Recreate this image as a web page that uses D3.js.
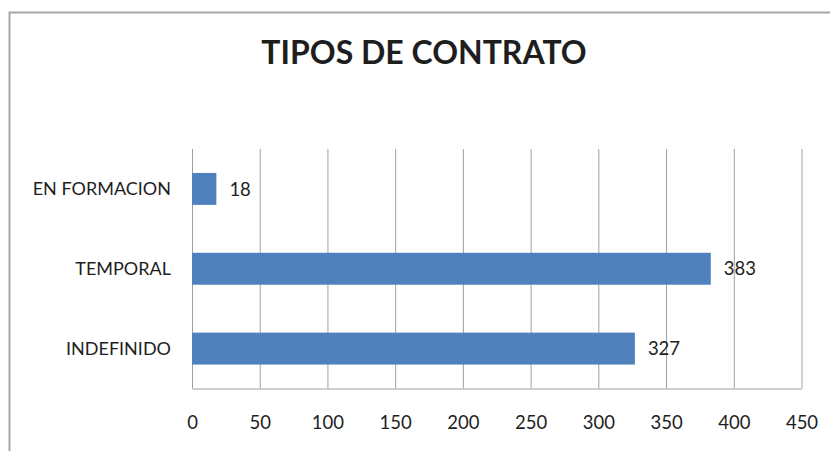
<!DOCTYPE html>
<html>
<head>
<meta charset="utf-8">
<script src="https://cdn.jsdelivr.net/npm/d3@7"></script>
<style>
  body { margin: 0; background: #fff; }
  text { font-family: Lato, "Open Sans", sans-serif; fill: #1e1e1e; }
</style>
</head>
<body>
<div id="graph"></div>
<script>
const categories = ["EN FORMACION", "TEMPORAL", "INDEFINIDO"]
const values = [18, 383, 327]
const xTicks = [0, 50, 100, 150, 200, 250, 300, 350, 400, 450]
const title = "TIPOS DE CONTRATO"

const W = 830, H = 451
const plot = { left: 192, right: 801.5, top: 149, bottom: 388.5 }

const svg = d3.select("#graph")
    .append("svg")
    .attr("width", W)
    .attr("height", H)

// outer chart border (only left/top visible in the crop)
svg.append("rect")
    .attr("x", 9.5)
    .attr("y", 12.5)
    .attr("width", W + 20)
    .attr("height", H + 20)
    .attr("fill", "none")
    .attr("stroke", "#a6a6a6")
    .attr("stroke-width", 2)

const x = d3.scaleLinear()
    .domain([0, 450])
    .range([plot.left, plot.right])

const y = d3.scaleBand()
    .domain(categories)
    .range([plot.top, plot.bottom])
    .paddingInner(0.6)
    .paddingOuter(0.3)

// x axis + vertical gridlines
const xAxis = d3.axisBottom(x)
    .tickValues(xTicks)
    .tickSize(-(plot.bottom - plot.top))
    .tickSizeOuter(0)
    .tickPadding(27)

const gx = svg.append("g")
    .attr("transform", `translate(0,${plot.bottom})`)
    .call(xAxis)

gx.select(".domain").attr("stroke", "#a0a0a0")
gx.selectAll(".tick line").attr("stroke", "#a0a0a0")
gx.selectAll(".tick text")
    .attr("font-size", 18.5)
    .attr("fill", "#1e1e1e")

// bars
svg.selectAll("rect.bar")
    .data(values)
    .enter()
    .append("rect")
    .attr("class", "bar")
    .attr("x", x(0))
    .attr("y", (d, i) => y(categories[i]))
    .attr("width", d => x(d) - x(0))
    .attr("height", y.bandwidth())
    .attr("fill", "#4f81bd")

// value labels
svg.selectAll("text.val")
    .data(values)
    .enter()
    .append("text")
    .attr("class", "val")
    .attr("x", d => x(d) + 13)
    .attr("y", (d, i) => y(categories[i]) + y.bandwidth() / 2)
    .attr("dy", "0.36em")
    .attr("font-size", 18.5)
    .text(d => d)

// category labels
svg.selectAll("text.cat")
    .data(categories)
    .enter()
    .append("text")
    .attr("class", "cat")
    .attr("x", 171)
    .attr("y", d => y(d) + y.bandwidth() / 2)
    .attr("dy", "0.36em")
    .attr("text-anchor", "end")
    .attr("font-size", 18)
    .text(d => d)

// title
svg.append("text")
    .attr("x", 424)
    .attr("y", 64)
    .attr("text-anchor", "middle")
    .attr("font-size", 32)
    .attr("font-weight", "bold")
    .text(title)
</script>
</body>
</html>
